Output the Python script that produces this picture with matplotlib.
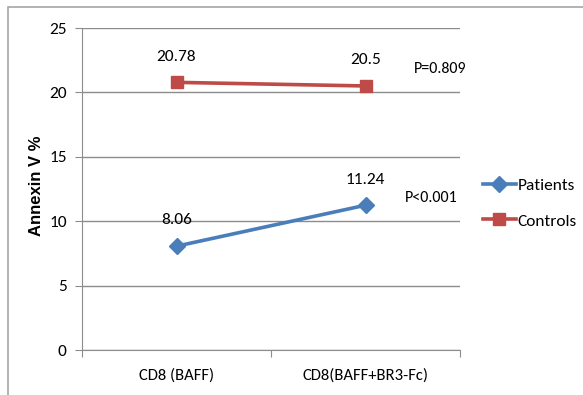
import matplotlib
matplotlib.use("Agg")
import matplotlib.pyplot as plt
from matplotlib.patches import Rectangle

categories = ["CD8 (BAFF)", "CD8(BAFF+BR3-Fc)"]
patients = [8.06, 11.24]
controls = [20.78, 20.5]
p_values = ["P<0.001", "P=0.809"]
y_ticks = [0, 5, 10, 15, 20, 25]

BLUE = "#4a7ebb"
RED = "#be4b48"
GRID = "#8c8c8c"
TEXT_FONT = ["Carlito", "DejaVu Sans"]
FS = 12

W, H = 583, 395
fig = plt.figure(figsize=(W / 100, H / 100), dpi=100)
ax = fig.add_axes([82 / W, 1 - 350 / H, (460 - 82) / W, (350 - 28) / H])

# outer chart frame, running off the right and bottom edges
fig.patches.append(Rectangle((7.5 / W, -0.05), 1.2, 1 - 7 / H + 0.05,
                             transform=fig.transFigure, fill=False,
                             edgecolor="#a6a6a6", lw=1.2, clip_on=False))

x = [0.5, 1.5]
ax.plot(x, patients, color=BLUE, lw=2.6, marker="D", ms=8,
        label="Patients", zorder=3)
ax.plot(x, controls, color=RED, lw=2.6, marker="s", ms=9,
        label="Controls", zorder=3)

# value labels sit a fixed distance above each marker
for series in (patients, controls):
    for xi, v in zip(x, series):
        ax.annotate(f"{v:g}", (xi, v), xytext=(0, 18.5),
                    textcoords="offset points", ha="center", va="center",
                    fontsize=FS + 0.5, family=TEXT_FONT)

ax.text(1.847, 11.8, p_values[0], ha="center", va="center",
        fontsize=FS - 0.5, family=TEXT_FONT)
ax.text(1.894, 21.8, p_values[1], ha="center", va="center",
        fontsize=FS - 0.5, family=TEXT_FONT)

ax.set_xlim(0, 2)
ax.set_ylim(0, 25)
ax.set_yticks(y_ticks)
ax.set_xticks([0, 1, 2])
ax.set_xticklabels([])
ax.set_xticks(x, minor=True)
ax.set_xticklabels(categories, minor=True, fontsize=FS, family=TEXT_FONT)
ax.tick_params(axis="x", which="minor", length=0, pad=13)
ax.tick_params(axis="x", which="major", length=5, color=GRID)
ax.tick_params(axis="y", length=5, color=GRID, labelsize=FS + 0.5, pad=6)
for lab in ax.get_yticklabels():
    lab.set_family(TEXT_FONT)

ax.grid(axis="y", color=GRID, lw=1)
ax.set_axisbelow(True)
for side in ["top", "right"]:
    ax.spines[side].set_visible(False)
for side in ["left", "bottom"]:
    ax.spines[side].set_color(GRID)

ax.set_ylabel("Annexin V %", fontsize=12, fontweight="bold",
              family=["Liberation Sans", "DejaVu Sans"])
ax.yaxis.set_label_coords(-0.10, 0.51)

fig.legend(handles=ax.get_lines(), loc="center left",
           bbox_to_anchor=(483 / W, 1 - 203 / H), frameon=False,
           borderpad=0, borderaxespad=0, handlelength=1.9,
           handletextpad=0.1, labelspacing=1.2,
           prop={"family": TEXT_FONT, "size": FS + 0.5})

fig.savefig("out.png", dpi=100)
